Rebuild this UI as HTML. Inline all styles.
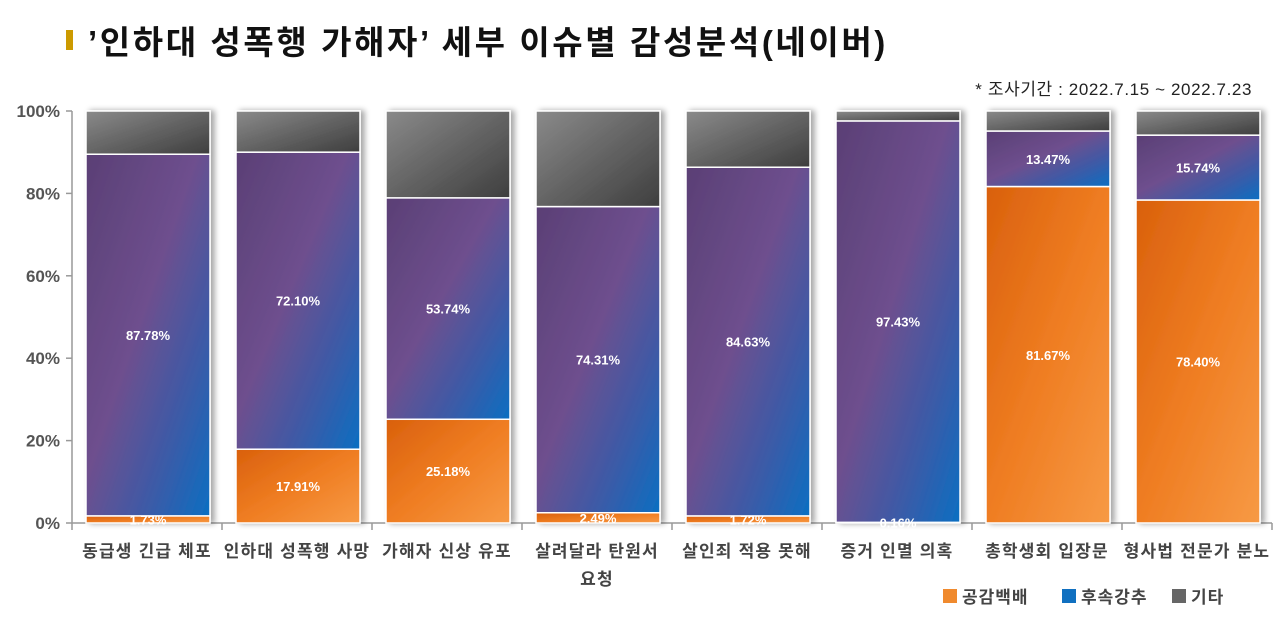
<!DOCTYPE html>
<html><head><meta charset="utf-8">
<style>
body{margin:0;background:#fff;width:1280px;height:619px;overflow:hidden;font-family:"Liberation Sans","Noto Sans CJK KR",sans-serif;}
</style></head>
<body>
<svg id="chart" width="1280" height="619" xmlns="http://www.w3.org/2000/svg" font-family="Liberation Sans, Noto Sans CJK KR, sans-serif">
<defs>
<linearGradient id="gO" x1="0" y1="0" x2="1" y2="1"><stop offset="0" stop-color="#d9600c"/><stop offset="0.5" stop-color="#ef7d22"/><stop offset="1" stop-color="#f79a45"/></linearGradient>
<linearGradient id="gB" x1="0" y1="0" x2="1" y2="1"><stop offset="0" stop-color="#5a3f75"/><stop offset="0.45" stop-color="#6e4f8e"/><stop offset="0.75" stop-color="#3a5ba8"/><stop offset="1" stop-color="#0b6fc2"/></linearGradient>
<linearGradient id="gG" x1="0" y1="0" x2="1" y2="1"><stop offset="0" stop-color="#8a8a8a"/><stop offset="1" stop-color="#3e3e3e"/></linearGradient>
<filter id="sh" x="-10%" y="-10%" width="130%" height="130%"><feDropShadow dx="4" dy="0" stdDeviation="3" flood-color="#000" flood-opacity="0.35"/></filter>
</defs>
<rect x="66" y="30" width="7" height="20" fill="#cc9a00"/>
<text x="88" y="54" font-size="33" font-weight="bold" fill="#111" letter-spacing="2.6">’인하대 성폭행 가해자’ 세부 이슈별 감성분석(네이버)</text>
<text x="1252" y="95" font-size="17" fill="#222" text-anchor="end" letter-spacing="0.6">* 조사기간 : 2022.7.15 ~ 2022.7.23</text>
<g id="axes"></g>
<g id="bars"></g>
<g id="legend">
<rect x="943" y="589" width="14" height="14" fill="#f08a2e"/><text x="962" y="603" font-size="17" font-weight="bold" fill="#444" letter-spacing="1">공감백배</text>
<rect x="1062" y="589" width="14" height="14" fill="#1070c0"/><text x="1081" y="603" font-size="17" font-weight="bold" fill="#444" letter-spacing="1">후속강추</text>
<rect x="1172" y="589" width="14" height="14" fill="#666"/><text x="1191" y="603" font-size="17" font-weight="bold" fill="#444" letter-spacing="1">기타</text>
</g>
</svg>
<script>
const categories=[["동급생 긴급 체포"],["인하대 성폭행 사망"],["가해자 신상 유포"],["살려달라 탄원서","요청"],["살인죄 적용 못해"],["증거 인멸 의혹"],["총학생회 입장문"],["형사법 전문가 분노"]];
const empathy=[1.73,17.91,25.18,2.49,1.72,0.16,81.67,78.40];
const followup=[87.78,72.10,53.74,74.31,84.63,97.43,13.47,15.74];
const other=[10.49,9.99,21.08,23.20,13.65,2.41,4.86,5.86];
const yTicks=[0,20,40,60,80,100];
const NS="http://www.w3.org/2000/svg";
const x0=72,catW=150,y0=523,y100=111;
const y=v=>y0-(v/100)*(y0-y100);
function mk(tag,attrs,parent){const e=document.createElementNS(NS,tag);for(const k in attrs)e.setAttribute(k,attrs[k]);parent.appendChild(e);return e;}
const axes=document.getElementById('axes'),bars=document.getElementById('bars');
const ax=mk('line',{x1:x0,y1:y100,x2:x0,y2:y0,stroke:'#999','stroke-width':1.5},axes);


const bx=mk('line',{x1:x0,y1:y0,x2:x0+catW*8,y2:y0,stroke:'#999','stroke-width':1.5},axes);


yTicks.forEach(t=>{
  mk('line',{x1:x0-6,y1:y(t),x2:x0,y2:y(t),stroke:'#999','stroke-width':1.5},axes);
  const tx=mk('text',{x:x0-12,y:y(t)+6,'font-size':17,'font-weight':'bold',fill:'#555','text-anchor':'end'},axes);
  tx.textContent=t+'%';
  
  
});
for(let i=0;i<=8;i++)mk('line',{x1:x0+i*catW,y1:y0,x2:x0+i*catW,y2:y0+7,stroke:'#999','stroke-width':1.5},axes);
categories.forEach((c,i)=>{
  const bxl=x0+i*catW+14,bw=124;
  const g=mk('g',{filter:'url(#sh)'},bars);
  
  
  const segs=[[empathy[i],'url(#gO)','empathy'],[followup[i],'url(#gB)','followup'],[other[i],'url(#gG)','other']];
  let acc=0;
  segs.forEach(s=>{
    const top=y(acc+s[0]),bot=y(acc);
    const r=mk('rect',{x:bxl,y:top,width:bw,height:Math.max(0,bot-top),fill:s[1],stroke:'#fff','stroke-width':1.5},g);
    
    
    acc+=s[0];
  });
  const lab=(v,mid)=>{const t=mk('text',{x:bxl+bw/2,y:mid+5,'font-size':13,'font-weight':'bold',fill:'#fff','text-anchor':'middle'},bars);t.textContent=v.toFixed(2)+'%';
    
    };
  lab(empathy[i],(y(0)+y(empathy[i]))/2);
  lab(followup[i],(y(empathy[i])+y(empathy[i]+followup[i]))/2);
  c.forEach((line,j)=>{
    const t=mk('text',{x:x0+i*catW+catW/2,y:557+j*28,'font-size':17,'font-weight':'bold',fill:'#444','text-anchor':'middle','letter-spacing':1.2},axes);
    t.textContent=line;
    
    
  });
});
</script>
</body></html>
